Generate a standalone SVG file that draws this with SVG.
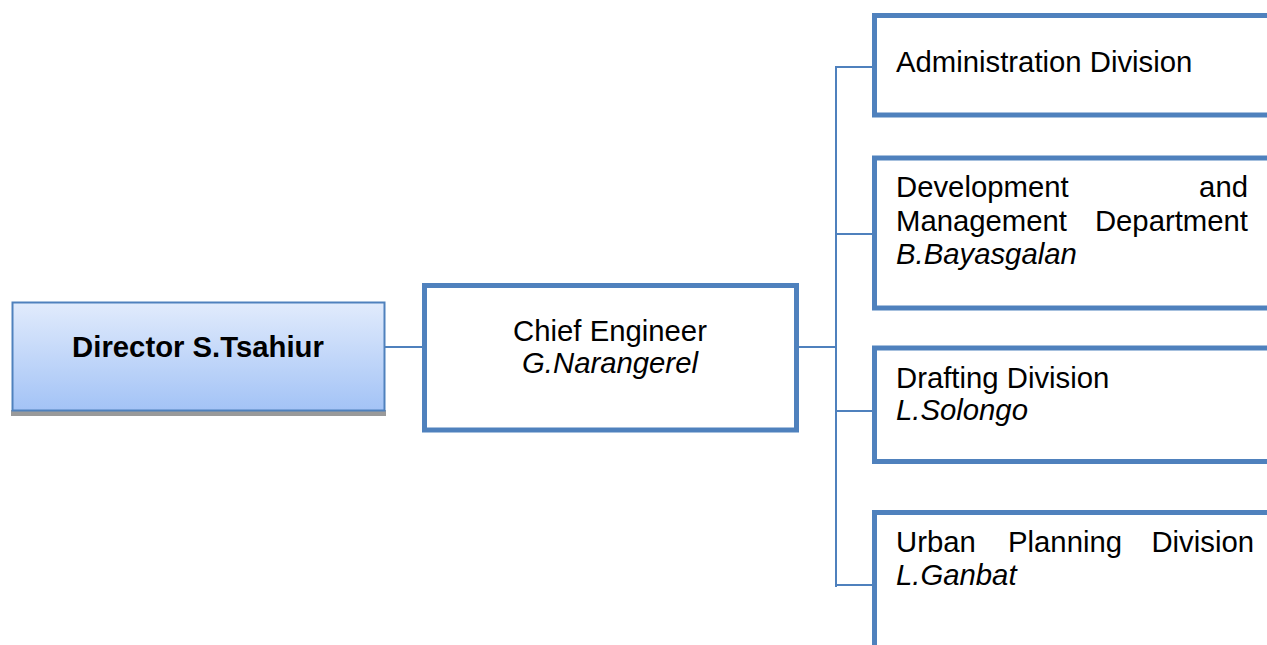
<svg xmlns="http://www.w3.org/2000/svg" width="1267" height="645" viewBox="0 0 1267 645">
  <defs>
    <linearGradient id="dirFill" x1="0" y1="0" x2="0" y2="1">
      <stop offset="0" stop-color="#E1EBFC"/>
      <stop offset="1" stop-color="#A3C3F6"/>
    </linearGradient>
    <style>
      .box { fill: #FFFFFF; stroke: #4F81BD; stroke-width: 5; }
      .link { fill: none; stroke: #4F81BD; stroke-width: 2; }
      .t { font-family: "Liberation Sans", Arial, sans-serif; font-size: 29.3px; fill: #000000; }
      .b { font-weight: bold; }
      .i { font-style: italic; }
    </style>
  </defs>
  <rect width="1267" height="645" fill="#FFFFFF"/>

  <!-- connectors -->
  <g id="connectors">
    <line class="link" x1="384" y1="347" x2="424" y2="347"/>
    <line class="link" x1="797" y1="347" x2="836" y2="347"/>
    <line class="link" x1="836" y1="66" x2="836" y2="587"/>
    <line class="link" x1="835" y1="67" x2="874" y2="67"/>
    <line class="link" x1="835" y1="234" x2="874" y2="234"/>
    <line class="link" x1="835" y1="411" x2="874" y2="411"/>
    <line class="link" x1="835" y1="585" x2="874" y2="585"/>
  </g>

  <!-- director -->
  <g id="director">
    <rect x="11" y="410" width="375" height="6" fill="#9A9A9A"/>
    <rect x="12.5" y="302.5" width="372" height="108" fill="url(#dirFill)" stroke="#4F81BD" stroke-width="2"/>
    <text class="t b" x="198" y="357" text-anchor="middle">Director S.Tsahiur</text>
  </g>

  <!-- chief engineer -->
  <g id="chief-engineer">
    <rect class="box" x="424.5" y="285.5" width="372" height="144.5"/>
    <text class="t" x="610" y="341" text-anchor="middle">Chief Engineer</text>
    <text class="t i" x="610" y="373" text-anchor="middle">G.Narangerel</text>
  </g>

  <!-- administration -->
  <g id="administration">
    <rect class="box" x="874.5" y="15.5" width="400" height="99.5"/>
    <text class="t" x="896" y="72">Administration Division</text>
  </g>

  <!-- development and management -->
  <g id="development">
    <rect class="box" x="874.5" y="158" width="400" height="150"/>
    <text class="t" x="896" y="197">Development</text>
    <text class="t" x="1248" y="197" text-anchor="end">and</text>
    <text class="t" x="896" y="231">Management</text>
    <text class="t" x="1248" y="231" text-anchor="end">Department</text>
    <text class="t i" x="896" y="264">B.Bayasgalan</text>
  </g>

  <!-- drafting -->
  <g id="drafting">
    <rect class="box" x="874.5" y="348" width="400" height="113.5"/>
    <text class="t" x="896" y="388">Drafting Division</text>
    <text class="t i" x="896" y="420">L.Solongo</text>
  </g>

  <!-- urban planning -->
  <g id="urban-planning">
    <rect class="box" x="874.5" y="512.5" width="400" height="160"/>
    <text class="t" x="896" y="552">Urban</text>
    <text class="t" x="1008" y="552">Planning</text>
    <text class="t" x="1254" y="552" text-anchor="end">Division</text>
    <text class="t i" x="896" y="585">L.Ganbat</text>
  </g>
</svg>
